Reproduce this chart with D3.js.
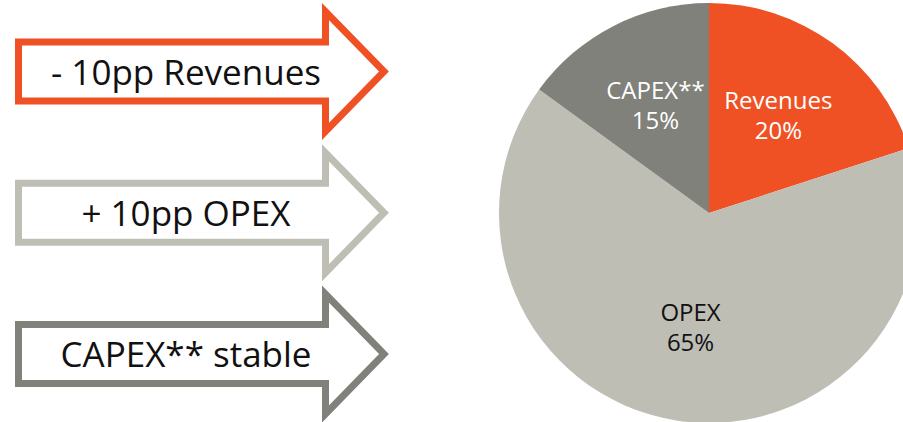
<!DOCTYPE html>
<html>
<head>
<meta charset="utf-8">
<script src="https://cdn.jsdelivr.net/npm/d3@7"></script>
<style>
  html, body { margin: 0; padding: 0; background: #ffffff; }
  svg { display: block; font-family: 'Open Sans', sans-serif; }
</style>
</head>
<body>
<svg id="chart"></svg>
<script>
(function(window, document) {
  'use strict';

  // Pie data
  const categories = ['Revenues', 'OPEX', 'CAPEX**'];
  const shares = [20, 65, 15];
  const sliceColors = ['#ef5124', '#bebeb5', '#80817a'];
  const labelColors = ['#ffffff', '#111111', '#ffffff'];

  // Arrow notes on the left
  const arrowLabels = ['- 10pp Revenues', '+ 10pp OPEX', 'CAPEX** stable'];
  const arrowColors = ['#ef5124', '#bebeb5', '#80817a'];

  const width = 903;
  const height = 422;

  let svg = d3.select('#chart')
    .attr('width', width)
    .attr('height', height);

  // Arrows
  let arrowY = d3.scalePoint()
    .domain(arrowLabels)
    .range([71.5, 354]);

  let x0 = 18.5, xHead = 325.5, xTip = 384;
  let bodyHalf = 29.5, headHalf = 60;

  function arrowPath(cy) {
    let p = d3.path();
    p.moveTo(x0, cy - bodyHalf);
    p.lineTo(xHead, cy - bodyHalf);
    p.lineTo(xHead, cy - headHalf);
    p.lineTo(xTip, cy);
    p.lineTo(xHead, cy + headHalf);
    p.lineTo(xHead, cy + bodyHalf);
    p.lineTo(x0, cy + bodyHalf);
    p.closePath();
    return p.toString();
  }

  let arrows = svg.selectAll('.arrow')
    .data(arrowLabels)
    .enter()
    .append('g')
    .attr('class', 'arrow');

  arrows.append('path')
    .attr('d', d => arrowPath(arrowY(d)))
    .style('fill', '#ffffff')
    .style('stroke', (d, i) => arrowColors[i])
    .style('stroke-width', 7)
    .style('stroke-linejoin', 'miter');

  arrows.append('text')
    .attr('x', 186)
    .attr('y', d => arrowY(d) + 13)
    .style('text-anchor', 'middle')
    .style('font-size', '35px')
    .style('fill', '#111111')
    .text(d => d);

  // Pie
  let cx = 709, cy = 213, radius = 210;

  let pie = d3.pie()
    .sort(null)
    .value(d => d.value);

  let data = categories.map((c, i) => ({
    name: c,
    value: shares[i],
    color: sliceColors[i],
    labelColor: labelColors[i]
  }));

  let arc = d3.arc().innerRadius(0).outerRadius(radius);
  let labelArc = d3.arc().innerRadius(118).outerRadius(118);

  let pieG = svg.append('g')
    .attr('transform', 'translate(' + cx + ',' + cy + ')');

  let slices = pieG.selectAll('.slice')
    .data(pie(data))
    .enter()
    .append('g')
    .attr('class', 'slice');

  slices.append('path')
    .attr('d', arc)
    .style('fill', d => d.data.color);

  let labels = slices.append('text')
    .attr('transform', d => 'translate(' + labelArc.centroid(d) + ')')
    .style('text-anchor', 'middle')
    .style('font-size', '24px')
    .style('fill', d => d.data.labelColor);

  labels.append('tspan')
    .attr('x', 0)
    .attr('y', -9)
    .text(d => d.data.name);

  labels.append('tspan')
    .attr('x', 0)
    .attr('y', 21)
    .text(d => d.data.value + '%');
})(window, document);
</script>
</body>
</html>
